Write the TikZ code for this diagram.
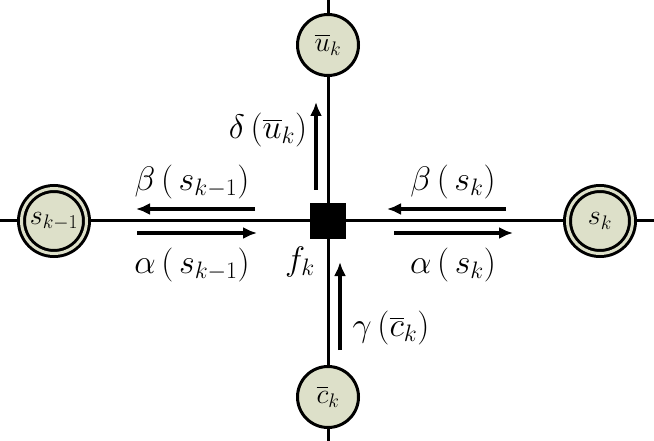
\RequirePackage{fix-cm}
\documentclass[tikz,border=0pt]{standalone}
\usepackage{amsmath}
\usepackage{xcolor}
\usetikzlibrary{arrows.meta,calc}
\definecolor{statefill}{RGB}{221,224,201}

\begin{document}
\begin{tikzpicture}[x=1pt,y=1pt,line width=3pt,
    state/.style={draw,circle,fill=statefill,double=statefill,
      double distance=3pt,line width=3pt,minimum size=65pt,inner sep=0pt,
      font=\fontsize{28}{34}\selectfont},
    var/.style={draw,circle,fill=statefill,line width=3pt,minimum size=61pt,
      inner sep=0pt,font=\fontsize{28}{34}\selectfont},
    factor/.style={draw,fill=black,minimum size=33pt,inner sep=0pt},
    msg/.style={line width=3.5pt,-{Latex[length=14pt,width=12pt]}},
    lbl/.style={inner sep=0pt,font=\fontsize{34}{40}\selectfont}]
    \useasboundingbox (0,0) rectangle (654,-441);

    \node[factor] (fk) at (328,-221) {};
    \node[state] (skm) at (54,-221) {$s_{k-1}$};
    \node[state] (sk) at (600,-221) {$s_k$};
    \node[var] (uk) at (328,-45) {$\overline{u}_k$};
    \node[var] (ck) at (328,-397) {$\overline{c}_k$};

    \coordinate (w) at (0,-221);
    \coordinate (e) at (654,-221);
    \coordinate (n) at (328,0);
    \coordinate (s) at (328,-441);
    \draw (w) -- (skm) -- (fk) -- (sk) -- (e);
    \draw (n) -- (uk) -- (fk) -- (ck) -- (s);

    % messages along the edges
    \coordinate (bkm0) at (255,-209);
    \coordinate (bkm1) at (136,-209);
    \coordinate (akm0) at (137,-233);
    \coordinate (akm1) at (257,-233);
    \coordinate (bk0) at (506,-209);
    \coordinate (bk1) at (387,-209);
    \coordinate (ak0) at (394,-233);
    \coordinate (ak1) at (513,-233);
    \coordinate (d0) at (316,-190);
    \coordinate (d1) at (316,-102);
    \coordinate (g0) at (340,-350);
    \coordinate (g1) at (340,-262);
    \draw[msg] (bkm0) -- (bkm1);
    \draw[msg] (akm0) -- (akm1);
    \draw[msg] (bk0) -- (bk1);
    \draw[msg] (ak0) -- (ak1);
    \draw[msg] (d0) -- (d1);
    \draw[msg] (g0) -- (g1);

    \node[lbl] (lbkm) at (192,-182) {$\beta\left(\,s_{k-1}\right)$};
    \node[lbl] (lakm) at (192,-265) {$\alpha\left(\,s_{k-1}\right)$};
    \node[lbl] (lbk) at (453,-182) {$\beta\left(\,s_k\right)$};
    \node[lbl] (lak) at (453,-265) {$\alpha\left(\,s_k\right)$};
    \node[lbl] (ld) at (268,-130) {$\delta\left(\overline{u}_k\right)$};
    \node[lbl] (lf) at (300,-262) {$f_k$};
    \node[lbl] (lg) at (391,-328) {$\gamma\left(\overline{c}_k\right)$};
\end{tikzpicture}
\end{document}
